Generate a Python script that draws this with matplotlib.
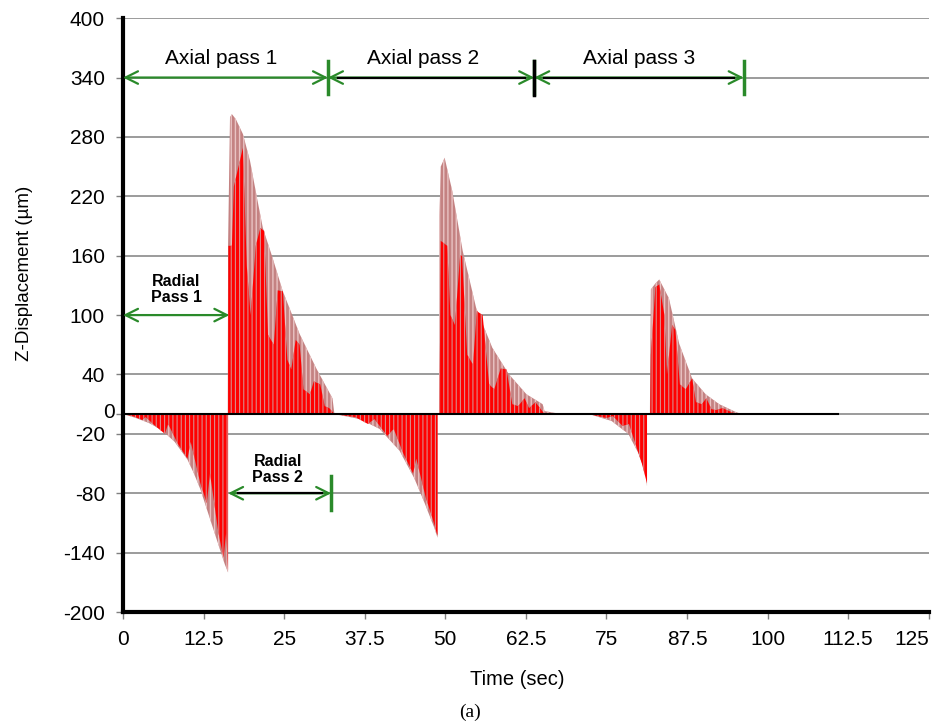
import matplotlib.pyplot as plt

plt.rcParams['font.family'] = ['Liberation Sans', 'DejaVu Sans']

# axis ticks
y_ticks = [400, 340, 280, 220, 160, 100, 40, 0, -20, -80, -140, -200]
x_ticks = [0, 12.5, 25, 37.5, 50, 62.5, 75, 87.5, 100, 112.5, 125]
x_labels = ['0', '12.5', '25', '37.5', '50', '62.5', '75', '87.5', '100', '112.5', '125']

# outer envelope of each burst (time in s, displacement in um)
b1_neg_t = [0, 2, 4, 6, 8, 10, 11, 12, 13, 14, 15, 15.8, 16.3]
b1_neg_v = [0, -4, -9, -16, -28, -46, -60, -76, -96, -116, -136, -152, -160]
b1_pos_t = [16.26, 16.3, 16.6, 16.9, 17.5, 18.6, 19.7, 20.8, 21.7, 23.2, 24.8, 26.2, 27.4, 30.0, 32.5, 32.8]
b1_pos_v = [0, 170, 300, 303, 298, 283, 256, 218, 188, 158, 124, 101, 81, 46, 16, 0]

b2_neg_t = [32.8, 36.7, 39.8, 42.9, 45.2, 46.8, 48.3, 48.8]
b2_neg_v = [0, -5, -15, -37, -65, -90, -115, -125]
b2_pos_t = [49.05, 49.1, 49.3, 49.9, 51.1, 52.7, 54.8, 57.3, 59.9, 62.6, 65.1, 65.4, 68.0]
b2_pos_v = [0, 200, 250, 259, 225, 165, 107, 67, 40, 20, 10, 3, 0]

b3_neg_t = [72.3, 75.8, 78.4, 80.0, 81.1, 81.3]
b3_neg_v = [0, -7, -20, -40, -60, -73]
b3_pos_t = [81.75, 81.8, 81.9, 82.6, 83.2, 84.7, 86.3, 88.3, 90.4, 92.5, 95.1, 96.0]
b3_pos_v = [0, 60, 126, 132, 136, 117, 71, 36, 20, 10, 2, 0]

# inner (dense red) part of each burst
b1_neg_in_t = [0, 1.5, 3, 3.5, 5, 6.5, 7, 8.5, 10, 10.5, 12, 13, 13.5, 14.8, 15.6, 16.0, 16.3]
b1_neg_in_v = [0, -2, -6, -3, -12, -20, -10, -30, -45, -28, -70, -90, -60, -120, -145, -120, -158]
b1_pos_in_t = [16.3, 16.35, 16.9, 17.2, 18.6, 19.2, 19.8, 20.6, 21.3, 21.9, 22.5, 23.4, 24.0, 24.8,
               25.5, 26.1, 26.8, 27.4, 28.0, 29.0, 29.6, 30.6, 31.3, 32.0, 32.8]
b1_pos_in_v = [0, 170, 170, 230, 269, 150, 100, 170, 188, 185, 80, 70, 125, 124,
               55, 45, 75, 70, 25, 20, 33, 30, 8, 6, 0]

b2_neg_in_t = [32.8, 36, 38, 39, 41, 42, 43.5, 45, 45.5, 47, 48, 48.8]
b2_neg_in_v = [0, -3, -10, -5, -22, -15, -40, -60, -45, -85, -105, -123]
b2_pos_in_t = [49.1, 49.3, 50.3, 50.8, 51.5, 52.3, 52.6, 53.4, 54.3, 54.9, 55.8, 56.8, 57.6,
               58.6, 59.5, 60.4, 61.3, 62.3, 63.0, 64.0, 65.4]
b2_pos_in_v = [0, 175, 170, 100, 90, 160, 160, 60, 50, 104, 100, 30, 25,
               46, 45, 10, 8, 16, 6, 12, 0]

b3_neg_in_t = [72.3, 75, 76, 77.5, 78.5, 79.5, 80.5, 81.3]
b3_neg_in_v = [0, -4, -2, -12, -10, -30, -50, -70]
b3_pos_in_t = [81.8, 81.9, 82.6, 83.2, 84.0, 84.4, 85.2, 85.7, 86.4, 87.3, 88.3, 88.9, 89.8,
               90.5, 91.3, 92.0, 93.0, 95.1]
b3_pos_in_v = [0, 60, 128, 131, 100, 40, 90, 85, 30, 25, 36, 12, 10, 16, 5, 4, 6, 0]

outer = [(b1_neg_t, b1_neg_v), (b1_pos_t, b1_pos_v), (b2_neg_t, b2_neg_v),
         (b2_pos_t, b2_pos_v), (b3_neg_t, b3_neg_v), (b3_pos_t, b3_pos_v)]
inner = [(b1_neg_in_t, b1_neg_in_v), (b1_pos_in_t, b1_pos_in_v), (b2_neg_in_t, b2_neg_in_v),
         (b2_pos_in_t, b2_pos_in_v), (b3_neg_in_t, b3_neg_in_v), (b3_pos_in_t, b3_pos_in_v)]

GREEN = '#2a8a2a'

fig = plt.figure(figsize=(9.39, 7.26), dpi=100)
ax = fig.add_axes([0.131, 0.157, 0.858, 0.818])

ax.set_xlim(0, 125)
ax.set_ylim(-200, 400)
ax.set_yticks(y_ticks)
ax.set_yticklabels(['' if v == 0 else str(v) for v in y_ticks], fontsize=15)
ax.set_xticks(x_ticks)
ax.set_xticklabels(x_labels, fontsize=15)
ax.get_xticklabels()[-1].set_horizontalalignment('right')
ax.tick_params(axis='both', length=5, color='#808080', width=1)
ax.tick_params(axis='y', pad=8)
ax.tick_params(axis='x', pad=8)
# the "0" label sits tight against the axis in the original
ax.text(-1.2, 2, '0', ha='right', va='center', fontsize=15)

for v in y_ticks:
    ax.axhline(v, color='#8a8a8a', lw=1.2, zorder=0)

for side in ['top', 'right']:
    ax.spines[side].set_visible(False)
ax.spines['left'].set_linewidth(3)
ax.spines['bottom'].set_linewidth(3)

# signal
plt.rcParams['hatch.linewidth'] = 1.0
for t, v in outer:
    ax.fill_between(t, v, 0, facecolor='#c48282', edgecolor='#e9c3c3', hatch='||||', lw=0, zorder=2)
plt.rcParams['hatch.linewidth'] = 0.8
for t, v in inner:
    ax.fill_between(t, v, 0, facecolor='#ff0000', edgecolor='#d88c8c', hatch='||||', lw=0, zorder=3)
ax.plot([0, 111], [0, 0], color='black', lw=1.5, zorder=4)


def span(x0, x1, y, mid='green', tick=True):
    ax.annotate('', xy=(x0, y), xytext=(x1, y),
                arrowprops=dict(arrowstyle='<->,head_length=0.9,head_width=0.45',
                                color=GREEN, lw=1.6, shrinkA=0, shrinkB=0), zorder=6)
    if mid == 'black':
        ax.plot([x0 + 1.5, x1 - 1.5], [y, y], color='black', lw=1.6, zorder=7)
    if tick:
        ax.plot([x1, x1], [y - 17, y + 17], color=GREEN, lw=2.5, zorder=7)


span(0, 31.8, 340)
span(31.8, 63.8, 340, mid='black')
span(63.8, 96.3, 340, mid='black')
ax.plot([63.8, 63.8], [322, 357], color='black', lw=2.5, zorder=8)
ax.text(15.3, 359, 'Axial pass 1', ha='center', va='center', fontsize=15)
ax.text(46.5, 359, 'Axial pass 2', ha='center', va='center', fontsize=15)
ax.text(80.0, 359, 'Axial pass 3', ha='center', va='center', fontsize=15)

span(0, 16.5, 100, tick=False)
ax.text(8.3, 126, 'Radial\nPass 1', ha='center', va='center', fontsize=11.5,
        fontweight='bold', linespacing=1.05)

span(16.3, 32.3, -80, mid='black')
ax.text(24.0, -56, 'Radial\nPass 2', ha='center', va='center', fontsize=11.5,
        fontweight='bold', linespacing=1.05)

ax.set_ylabel('Z-Displacement (µm)', fontsize=13.5)
ax.yaxis.set_label_coords(-0.112, 0.571)
ax.set_xlabel('Time (sec)', fontsize=14.5)
ax.xaxis.set_label_coords(0.489, -0.097)
fig.text(0.5005, 0.019, '(a)', ha='center', va='center', fontsize=14,
         family=['Liberation Serif', 'DejaVu Serif'])

fig.savefig('out.png', dpi=100)
